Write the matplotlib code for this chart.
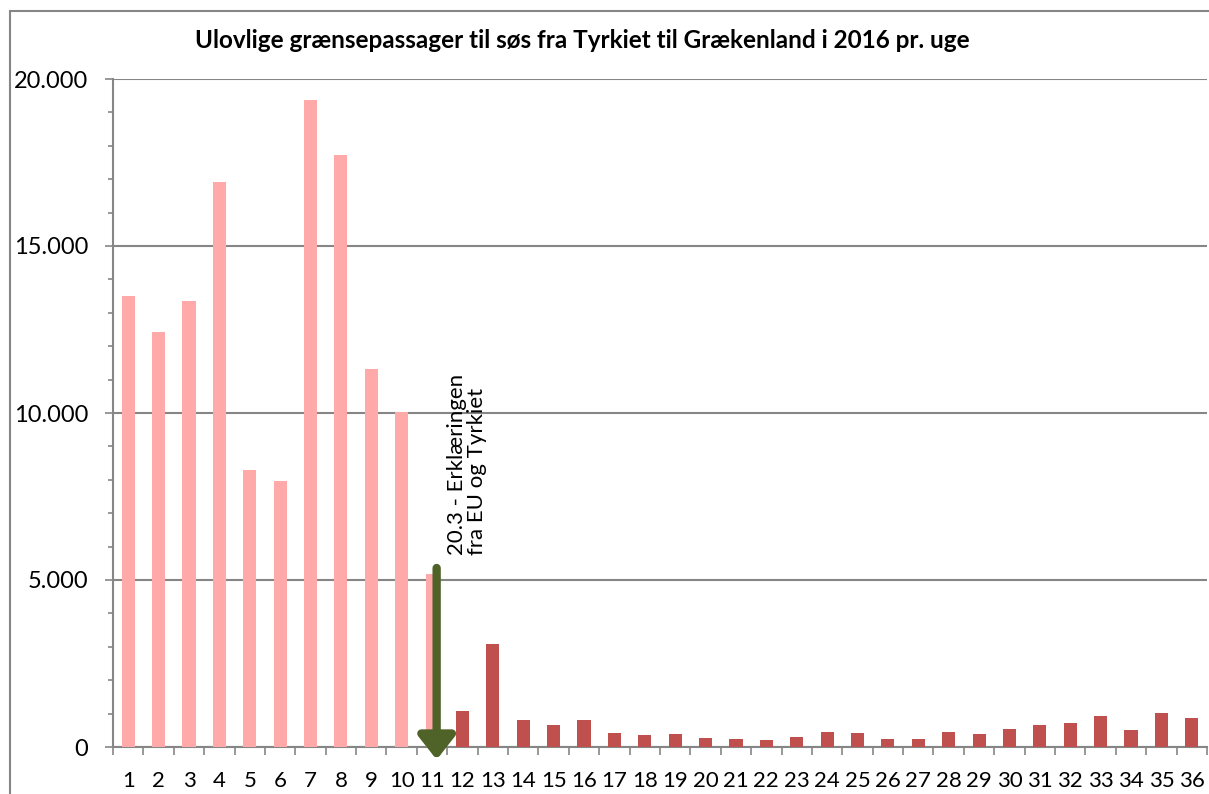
import matplotlib
matplotlib.use("Agg")
import matplotlib.pyplot as plt
from matplotlib.ticker import MultipleLocator, FuncFormatter
from matplotlib.patches import Rectangle

weeks = list(range(1, 37))
before = [13500, 12430, 13350, 16920, 8290, 7960, 19370, 17730, 11320, 10030, 5180]
after = [1080, 3080, 800, 650, 800, 430, 370, 380, 280, 240, 210, 310, 460,
         410, 230, 250, 450, 380, 550, 650, 710, 940, 520, 1030, 870]
values = before + after
title = "Ulovlige grænsepassager til søs fra Tyrkiet til Grækenland i 2016 pr. uge"
annot = "20.3 - Erklæringen\nfra EU og Tyrkiet"
arrow_week = 11
arrow_top = 5360
arrow_tip = -380
annot_base = 5750

plt.rcParams['font.family'] = ['Lato', 'DejaVu Sans']

fig = plt.figure(figsize=(12.09, 7.94), dpi=100)
ax = fig.add_axes([113/1209, 1-747/794, (1207-113)/1209, (747-79)/794])

light = '#FFA9A9'
dark = '#C0504D'
colors = [light]*len(before) + [dark]*len(after)
ax.bar(weeks, values, width=0.43, color=colors, zorder=3)

ax.set_xlim(0.5, 36.5)
ax.set_ylim(0, 20000)
ax.yaxis.set_major_locator(MultipleLocator(5000))
ax.yaxis.set_minor_locator(MultipleLocator(1000))
ax.yaxis.set_major_formatter(FuncFormatter(lambda v, p: f"{int(v):,}".replace(",", ".")))
ax.grid(axis='y', which='major', color='#868686', lw=1.5, zorder=1)
ax.set_xticks(weeks)
ax.set_xticklabels([str(w) for w in weeks])
ax.set_xticks([w + 0.5 for w in range(0, 37)], minor=True)
ax.tick_params(axis='x', which='major', length=0, labelsize=16, pad=17)
ax.tick_params(axis='x', which='minor', length=5.8, color='#868686', width=1.2)
ax.tick_params(axis='y', which='major', length=6, color='#868686', width=1.2, labelsize=17, pad=12)
ax.tick_params(axis='y', which='minor', length=3.6, color='#868686', width=1.2)
for s in ['top', 'right']:
    ax.spines[s].set_visible(False)
for s in ['left', 'bottom']:
    ax.spines[s].set_color('#868686')
    ax.spines[s].set_linewidth(1.5)

ax.annotate('', xy=(arrow_week + 0.15, arrow_tip), xytext=(arrow_week + 0.15, arrow_top),
            arrowprops=dict(arrowstyle='-|>,head_width=1.1,head_length=1.4',
                            mutation_scale=10, color='#4F6228', lw=6,
                            shrinkA=0, shrinkB=0),
            zorder=5, annotation_clip=False)
ax.text(arrow_week + 0.5, annot_base, annot, rotation=90, ha='left', va='top',
        fontsize=16, linespacing=1.0, rotation_mode='anchor', transform=ax.transData)

fig.text(582/1209, 1-40/794, title, ha='center', va='center', fontsize=17.5, fontweight='bold')

fig.patches.append(Rectangle((10/1209, -0.1), 1.2, 1.1-11/794, transform=fig.transFigure,
                             fill=False, edgecolor='#868686', lw=1.5))

fig.savefig('out.png', dpi=100)
